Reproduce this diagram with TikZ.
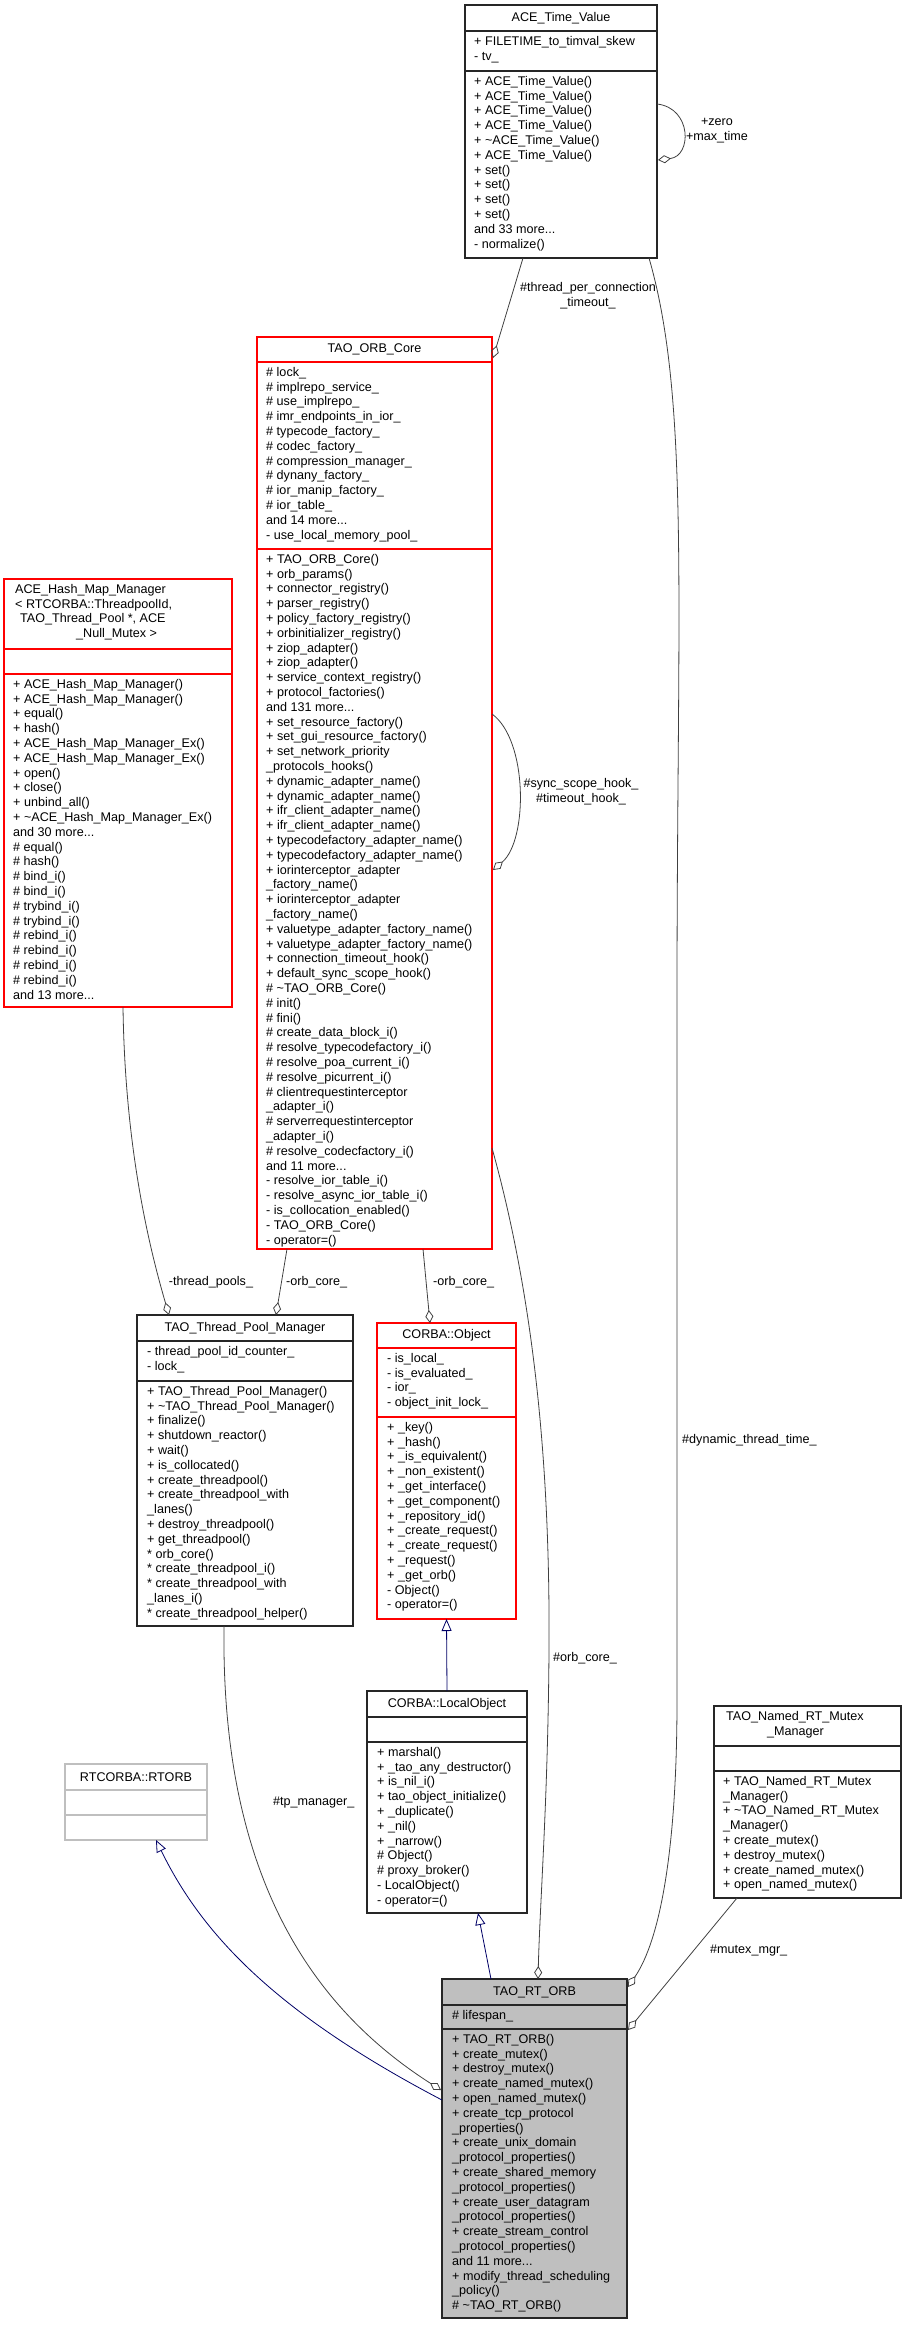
\documentclass[tikz,border=0pt]{standalone}
\usepackage{fontspec}
\setmainfont{Liberation Sans}
\usetikzlibrary{arrows.meta,calc}
\newcommand\umlbox[8]{%
 \node[#8, anchor=north west, inner sep=0pt, outer sep=0pt, minimum width=#4pt-#2pt, minimum height=#5pt-#3pt] (#1) at (#2,#3) {};
 \draw[#8,fill=none] (#2,#6) -- (#4,#6); \draw[#8,fill=none] (#2,#7) -- (#4,#7);}
\newcommand\tl{\textasciitilde}
\begin{document}
\begin{tikzpicture}[x=1pt,y=-1pt,
 every node/.style={font=\fontsize{12.6}{14.8}\selectfont, inner sep=0pt},
 blk/.style={draw=black!85, line width=1.1pt},
 redb/.style={draw=red, line width=1.1pt},
 grayb/.style={draw=black!25, line width=1.1pt},
 rtb/.style={draw=black!85, fill=black!25, line width=1.1pt},
 lst/.style={anchor=north west, align=left},
 ttl/.style={align=center},
 lab/.style={align=center},
 agg/.style={draw=black!75, line width=0.8pt, -{Diamond[open,length=13pt,width=8pt]}},
 inh/.style={draw=blue!40!black, line width=0.8pt, {Triangle[open,length=12pt,width=10pt]}-}
]
\useasboundingbox (0,0) rectangle (907,2325);

% ACE_Time_Value
\umlbox{ace}{465}{5}{657}{258}{31}{71}{blk}
\node[ttl] (ace-t) at (561,18) {ACE\_Time\_Value};
\node[lst] (ace-a) at (474,36) {+ FILETIME\_to\_timval\_skew\\- tv\_};
\node[lst] (ace-m) at (474,76) {+ ACE\_Time\_Value()\\+ ACE\_Time\_Value()\\+ ACE\_Time\_Value()\\+ ACE\_Time\_Value()\\+ \tl ACE\_Time\_Value()\\+ ACE\_Time\_Value()\\+ set()\\+ set()\\+ set()\\+ set()\\and 33 more...\\- normalize()};

% TAO_ORB_Core
\umlbox{orb}{257}{337}{492}{1249}{362}{549}{redb}
\node[ttl] (orb-t) at (374.5,349.5) {TAO\_ORB\_Core};
\node[lst] (orb-a) at (266,367) {\# lock\_\\\# implrepo\_service\_\\\# use\_implrepo\_\\\# imr\_endpoints\_in\_ior\_\\\# typecode\_factory\_\\\# codec\_factory\_\\\# compression\_manager\_\\\# dynany\_factory\_\\\# ior\_manip\_factory\_\\\# ior\_table\_\\and 14 more...\\- use\_local\_memory\_pool\_};
\node[lst] (orb-m) at (266,554) {+ TAO\_ORB\_Core()\\+ orb\_params()\\+ connector\_registry()\\+ parser\_registry()\\+ policy\_factory\_registry()\\+ orbinitializer\_registry()\\+ ziop\_adapter()\\+ ziop\_adapter()\\+ service\_context\_registry()\\+ protocol\_factories()\\and 131 more...\\+ set\_resource\_factory()\\+ set\_gui\_resource\_factory()\\+ set\_network\_priority\\\_protocols\_hooks()\\+ dynamic\_adapter\_name()\\+ dynamic\_adapter\_name()\\+ ifr\_client\_adapter\_name()\\+ ifr\_client\_adapter\_name()\\+ typecodefactory\_adapter\_name()\\+ typecodefactory\_adapter\_name()\\+ iorinterceptor\_adapter\\\_factory\_name()\\+ iorinterceptor\_adapter\\\_factory\_name()\\+ valuetype\_adapter\_factory\_name()\\+ valuetype\_adapter\_factory\_name()\\+ connection\_timeout\_hook()\\+ default\_sync\_scope\_hook()\\\# \tl TAO\_ORB\_Core()\\\# init()\\\# fini()\\\# create\_data\_block\_i()\\\# resolve\_typecodefactory\_i()\\\# resolve\_poa\_current\_i()\\\# resolve\_picurrent\_i()\\\# clientrequestinterceptor\\\_adapter\_i()\\\# serverrequestinterceptor\\\_adapter\_i()\\\# resolve\_codecfactory\_i()\\and 11 more...\\- resolve\_ior\_table\_i()\\- resolve\_async\_ior\_table\_i()\\- is\_collocation\_enabled()\\- TAO\_ORB\_Core()\\- operator=()};

% ACE_Hash_Map_Manager
\umlbox{hash}{4}{579}{232}{1007}{649}{674}{redb}
\node[lst] (hash-t) at (15,584) {ACE\_Hash\_Map\_Manager\\< RTCORBA::ThreadpoolId,\\\hspace*{5pt}TAO\_Thread\_Pool *, ACE\\\hspace*{61pt}\_Null\_Mutex >};
\node[lst] (hash-m) at (13,679) {+ ACE\_Hash\_Map\_Manager()\\+ ACE\_Hash\_Map\_Manager()\\+ equal()\\+ hash()\\+ ACE\_Hash\_Map\_Manager\_Ex()\\+ ACE\_Hash\_Map\_Manager\_Ex()\\+ open()\\+ close()\\+ unbind\_all()\\+ \tl ACE\_Hash\_Map\_Manager\_Ex()\\and 30 more...\\\# equal()\\\# hash()\\\# bind\_i()\\\# bind\_i()\\\# trybind\_i()\\\# trybind\_i()\\\# rebind\_i()\\\# rebind\_i()\\\# rebind\_i()\\\# rebind\_i()\\and 13 more...};

% TAO_Thread_Pool_Manager
\umlbox{tp}{137}{1315}{353}{1626}{1341}{1381}{blk}
\node[ttl] (tp-t) at (245,1328) {TAO\_Thread\_Pool\_Manager};
\node[lst] (tp-a) at (147,1346) {- thread\_pool\_id\_counter\_\\- lock\_};
\node[lst] (tp-m) at (147,1386) {+ TAO\_Thread\_Pool\_Manager()\\+ \tl TAO\_Thread\_Pool\_Manager()\\+ finalize()\\+ shutdown\_reactor()\\+ wait()\\+ is\_collocated()\\+ create\_threadpool()\\+ create\_threadpool\_with\\\_lanes()\\+ destroy\_threadpool()\\+ get\_threadpool()\\* orb\_core()\\* create\_threadpool\_i()\\* create\_threadpool\_with\\\_lanes\_i()\\* create\_threadpool\_helper()};

% CORBA::Object
\umlbox{obj}{377}{1323}{516}{1619}{1348}{1417}{redb}
\node[ttl] (obj-t) at (446.5,1335.5) {CORBA::Object};
\node[lst] (obj-a) at (387,1353) {- is\_local\_\\- is\_evaluated\_\\- ior\_\\- object\_init\_lock\_};
\node[lst] (obj-m) at (387,1422) {+ \_key()\\+ \_hash()\\+ \_is\_equivalent()\\+ \_non\_existent()\\+ \_get\_interface()\\+ \_get\_component()\\+ \_repository\_id()\\+ \_create\_request()\\+ \_create\_request()\\+ \_request()\\+ \_get\_orb()\\- Object()\\- operator=()};

% CORBA::LocalObject
\umlbox{lo}{367}{1691}{527}{1913}{1717}{1742}{blk}
\node[ttl] (lo-t) at (447,1704) {CORBA::LocalObject};
\node[lst] (lo-m) at (377,1747) {+ marshal()\\+ \_tao\_any\_destructor()\\+ is\_nil\_i()\\+ tao\_object\_initialize()\\+ \_duplicate()\\+ \_nil()\\+ \_narrow()\\\# Object()\\\# proxy\_broker()\\- LocalObject()\\- operator=()};

% TAO_Named_RT_Mutex_Manager
\umlbox{nm}{714}{1706}{901}{1898}{1746}{1771}{blk}
\node[lst] (nm-t) at (726,1711) {TAO\_Named\_RT\_Mutex\\\hspace*{41pt}\_Manager};
\node[lst] (nm-m) at (723,1776) {+ TAO\_Named\_RT\_Mutex\\\_Manager()\\+ \tl TAO\_Named\_RT\_Mutex\\\_Manager()\\+ create\_mutex()\\+ destroy\_mutex()\\+ create\_named\_mutex()\\+ open\_named\_mutex()};

% RTCORBA::RTORB
\umlbox{rtorb}{65}{1764}{207}{1840}{1790}{1815}{grayb}
\node[ttl] (rtorb-t) at (136,1777) {RTCORBA::RTORB};

% TAO_RT_ORB
\umlbox{rt}{442}{1979}{627}{2318}{2005}{2029}{rtb}
\node[ttl] (rt-t) at (534.5,1992) {TAO\_RT\_ORB};
\node[lst] (rt-a) at (452,2010) {\# lifespan\_};
\node[lst] (rt-m) at (452,2034) {+ TAO\_RT\_ORB()\\+ create\_mutex()\\+ destroy\_mutex()\\+ create\_named\_mutex()\\+ open\_named\_mutex()\\+ create\_tcp\_protocol\\\_properties()\\+ create\_unix\_domain\\\_protocol\_properties()\\+ create\_shared\_memory\\\_protocol\_properties()\\+ create\_user\_datagram\\\_protocol\_properties()\\+ create\_stream\_control\\\_protocol\_properties()\\and 11 more...\\+ modify\_thread\_scheduling\\\_policy()\\\# \tl TAO\_RT\_ORB()};

% connectors
\draw[agg] ($(ace.south west)+(58,0)$) -- ($(orb.north east)+(1,21)$);
\draw[agg] ($(ace.south west)+(184,0)$) .. controls (690,400) and (677,600) .. (677,1000) -- (677,1700) .. controls (677,1850) and (660,1940) .. ($(rt.north east)+(1,8)$);
\draw[agg] ($(ace.north east)+(0,99)$) .. controls (692,108) and (692,156) .. ($(ace.north east)+(1,155)$);
\draw[agg] ($(orb.north east)+(0,377)$) .. controls (528,740) and (528,840) .. ($(orb.north east)+(1,533)$);
\draw[agg] ($(hash.south west)+(119,0)$) .. controls (125,1150) and (150,1250) .. ($(tp.north west)+(32,0)$);
\draw[agg] ($(orb.south west)+(30,0)$) -- ($(tp.north west)+(139,0)$);
\draw[agg] ($(orb.south west)+(166,0)$) -- ($(obj.north west)+(53,0)$);
\draw[agg] ($(orb.north east)+(0,811)$) .. controls (540,1320) and (550,1500) .. (549,1650) .. controls (548,1800) and (540,1900) .. ($(rt.north west)+(96,0)$);
\draw[agg] ($(tp.south west)+(87,0)$) .. controls (221,1860) and (300,2000) .. ($(rt.north west)+(-1,111)$);
\draw[inh] ($(rtorb.south west)+(91,0)$) .. controls (200,1930) and (270,2010) .. ($(rt.north west)+(0,121)$);
\draw[inh] (obj.south) -- (lo.north);
\draw[inh] ($(lo.south west)+(111,0)$) -- ($(rt.north west)+(49,0)$);
\draw[agg] ($(nm.south west)+(23,0)$) -- ($(rt.north east)+(1,51)$);

% labels
\node[lab] (l1) at (588,296) {\#thread\_per\_connection\\\_timeout\_};
\node[lab] (l2) at (717,131) {+zero\\+max\_time};
\node[lab] (l3) at (581,792) {\#sync\_scope\_hook\_\\\#timeout\_hook\_};
\node[lab] (l4) at (211,1282) {-thread\_pools\_};
\node[anchor=west] (l5) at (286,1282) {-orb\_core\_};
\node[anchor=west] (l6) at (433,1282) {-orb\_core\_};
\node[anchor=west] (l7) at (553,1658) {\#orb\_core\_};
\node[anchor=west] (l8) at (682,1440) {\#dynamic\_thread\_time\_};
\node[anchor=west] (l9) at (273,1802) {\#tp\_manager\_};
\node[anchor=west] (l10) at (710,1950) {\#mutex\_mgr\_};
\end{tikzpicture}
\end{document}
